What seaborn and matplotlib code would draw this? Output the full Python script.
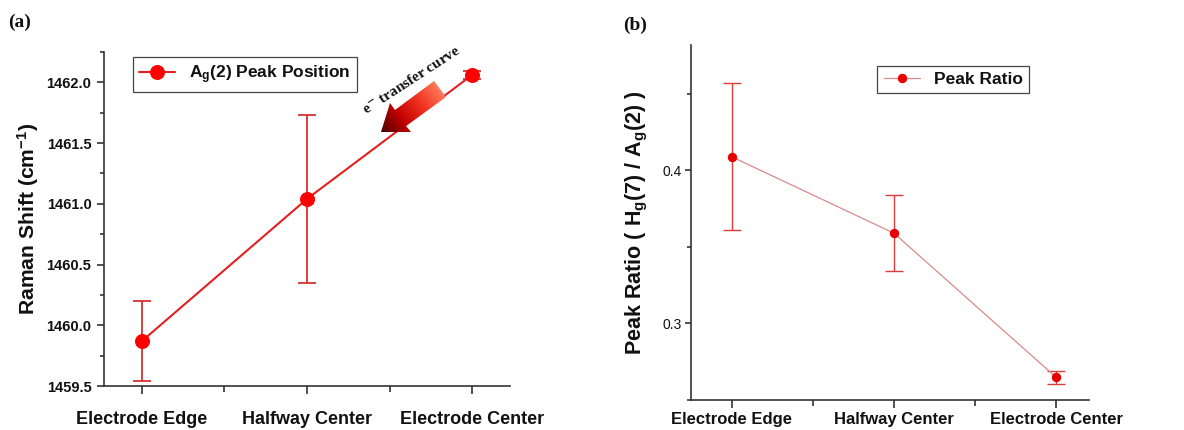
import numpy as np
import pandas as pd
import matplotlib
matplotlib.use("Agg")
import matplotlib.pyplot as plt
import seaborn as sns
from matplotlib.patches import Polygon
from matplotlib.colors import LinearSegmentedColormap
from matplotlib.ticker import MultipleLocator, FormatStrFormatter

# ---------------- data ----------------
categories = ["Electrode Edge", "Halfway Center", "Electrode Center"]
raman_shift = [1459.87, 1461.04, 1462.06]
raman_err = [0.33, 0.69, 0.03]
peak_ratio = [0.409, 0.359, 0.2647]
ratio_err = [0.048, 0.025, 0.0043]

sns.set_theme(style="ticks")
plt.rcParams["font.family"] = ["Liberation Sans", "DejaVu Sans"]
plt.rcParams["mathtext.fontset"] = "custom"
plt.rcParams["mathtext.rm"] = "Liberation Sans:bold"
plt.rcParams["mathtext.it"] = "Liberation Sans:bold"
plt.rcParams["mathtext.bf"] = "Liberation Sans:bold"
plt.rcParams["axes.edgecolor"] = "#333333"
plt.rcParams["xtick.color"] = "#333333"
plt.rcParams["ytick.color"] = "#333333"
plt.rcParams["xtick.labelcolor"] = "#111111"
plt.rcParams["ytick.labelcolor"] = "#111111"
plt.rcParams["axes.labelcolor"] = "#111111"
plt.rcParams["text.color"] = "#111111"

fig = plt.figure(figsize=(11.84, 4.30), dpi=100)
ax1 = fig.add_axes([0.0878, 0.1023, 0.343, 0.777])
ax2 = fig.add_axes([0.5836, 0.0698, 0.336, 0.8256])

pos = np.arange(len(categories))
df_a = pd.DataFrame({"pos": pos, "shift": raman_shift, "cat": categories})
df_b = pd.DataFrame({"pos": pos, "ratio": peak_ratio, "cat": categories})

# ---------------- panel (a) ----------------
ax1.errorbar(pos, raman_shift, yerr=raman_err, fmt="none", ecolor="#d83030",
             elinewidth=1.3, capsize=6.5, capthick=1.3, zorder=2)
sns.lineplot(data=df_a, x="pos", y="shift", ax=ax1, color="#e32020", lw=1.5,
             marker="o", markersize=10, markerfacecolor="#ff0000",
             markeredgecolor="#ff0000", label="A$_g$(2) Peak Position", zorder=3)
ax1.set_xlim(-0.23, 2.23)
ax1.set_ylim(1459.5, 1462.25)
ax1.set_xticks(pos)
ax1.set_xticklabels(categories, fontsize=13, fontweight="bold")
ax1.xaxis.set_minor_locator(MultipleLocator(0.5))
ax1.yaxis.set_major_locator(MultipleLocator(0.5))
ax1.yaxis.set_minor_locator(MultipleLocator(0.25))
ax1.yaxis.set_major_formatter(FormatStrFormatter("%.1f"))
for lab in ax1.get_yticklabels():
    lab.set_fontweight("bold")
    lab.set_fontsize(10.5)
ax1.tick_params(axis="x", which="major", length=6, width=1.2, pad=12)
ax1.tick_params(axis="x", which="minor", length=4, width=1.2)
ax1.tick_params(axis="y", which="major", length=5, width=1.2, pad=4)
ax1.tick_params(axis="y", which="minor", length=3, width=1.2)
ax1.set_xlabel("")
ax1.set_ylabel("Raman Shift (cm$^{-1}$)", fontsize=15.2, fontweight="bold", labelpad=4)
sns.despine(ax=ax1)
for s in ["left", "bottom"]:
    ax1.spines[s].set_linewidth(1.2)
leg1 = ax1.legend(loc="upper left", bbox_to_anchor=(0.05, 1.01), fancybox=False,
                  edgecolor="#444444", framealpha=1, handlelength=2.1,
                  prop={"weight": "bold", "size": 12.5}, borderpad=0.35)
leg1.get_frame().set_linewidth(0.9)

# ---------------- panel (b) ----------------
ax2.errorbar(pos, peak_ratio, yerr=ratio_err, fmt="none", ecolor="#e03a3a",
             elinewidth=1.0, capsize=6.3, capthick=1.0, zorder=2)
sns.lineplot(data=df_b, x="pos", y="ratio", ax=ax2, color="#d98a8a", lw=0.9,
             marker="o", markersize=6, markerfacecolor="#e80000",
             markeredgecolor="#e80000", label="Peak Ratio", zorder=3)
ax2.set_xlim(-0.25, 2.2)
ax2.set_ylim(0.25, 0.482)
ax2.set_xticks(pos)
ax2.set_xticklabels(categories, fontsize=12, fontweight="bold")
ax2.xaxis.set_minor_locator(MultipleLocator(0.5))
ax2.yaxis.set_major_locator(MultipleLocator(0.1))
ax2.yaxis.set_minor_locator(MultipleLocator(0.05))
ax2.yaxis.set_major_formatter(FormatStrFormatter("%.1f"))
for lab in ax2.get_yticklabels():
    lab.set_fontsize(10)
ax2.tick_params(axis="x", which="major", length=6, width=1.2, pad=3)
ax2.tick_params(axis="x", which="minor", length=4, width=1.2)
ax2.tick_params(axis="y", which="major", length=4, width=1.2, pad=3)
ax2.tick_params(axis="y", which="minor", length=3, width=1.2)
ax2.set_xlabel("")
ax2.set_ylabel("Peak Ratio ( H$_g$(7) / A$_g$(2) )", fontsize=15.5, fontweight="bold",
               labelpad=9)
sns.despine(ax=ax2)
for s in ["left", "bottom"]:
    ax2.spines[s].set_linewidth(1.2)
leg2 = ax2.legend(loc="upper left", bbox_to_anchor=(0.447, 0.966), fancybox=False,
                  edgecolor="#444444", framealpha=1, handlelength=2.1,
                  prop={"weight": "bold", "size": 12.5}, borderpad=0.35)
leg2.get_frame().set_linewidth(0.9)

# ---------------- panel labels & annotation ----------------
fig.text(8 / 1184, 1 - 22 / 430, "(a)", fontsize=14, fontweight="bold",
         family=["Liberation Serif", "DejaVu Serif"], va="center", ha="left")
fig.text(623 / 1184, 1 - 25 / 430, "(b)", fontsize=14, fontweight="bold",
         family=["Liberation Serif", "DejaVu Serif"], va="center", ha="left")

ov = fig.add_axes([0, 0, 1, 1], zorder=10)
ov.set_xlim(0, 1184)
ov.set_ylim(430, 0)
ov.axis("off")
ov.patch.set_alpha(0)

ov.text(411, 80, r"e$^{\mathbf{-}}$ transfer curve", rotation=33, fontsize=11,
        fontweight="bold", family=["Liberation Serif", "DejaVu Serif"],
        math_fontfamily="stix", ha="center", va="center")

T = np.array([440.0, 89.0])
P = np.array([381.0, 132.0])
d = (P - T) / np.linalg.norm(P - T)
n = np.array([-d[1], d[0]])
L = np.linalg.norm(P - T)
hl, sw, hw = 24.0, 9.5, 18.0
B = P - d * hl
pts = [T + n * sw, B + n * sw, B + n * hw, P, B - n * hw, B - n * sw, T - n * sw]
poly = Polygon(pts, closed=True, facecolor="none", edgecolor="none")
ov.add_patch(poly)
xs = np.linspace(360, 470, 160)
ys = np.linspace(60, 160, 160)
X, Y = np.meshgrid(xs, ys)
Z = ((X - T[0]) * d[0] + (Y - T[1]) * d[1]) / L
cmap = LinearSegmentedColormap.from_list("arr", ["#ff7a5a", "#f03020", "#c00000", "#4a0000"])
mesh = ov.pcolormesh(X, Y, Z, cmap=cmap, vmin=0, vmax=1, shading="auto")
mesh.set_clip_path(poly)

fig.savefig("out.png", dpi=100)
